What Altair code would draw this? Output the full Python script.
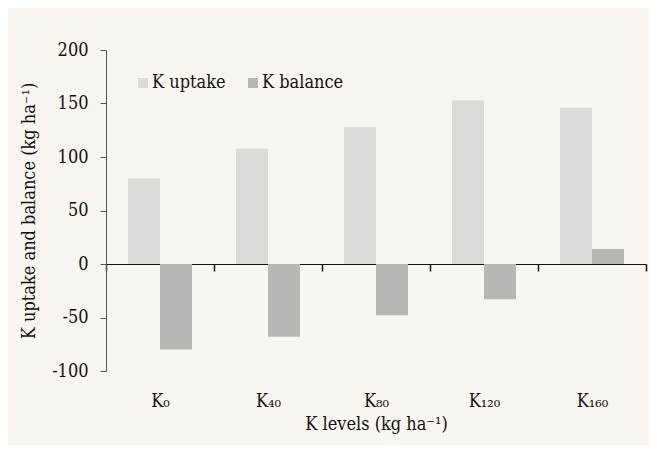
import altair as alt
import pandas as pd

levels = ["K₀", "K₄₀", "K₈₀", "K₁₂₀", "K₁₆₀"]
uptake = [80, 108, 128, 153, 146]
balance = [-80, -68, -48, -33, 14]
series = ["K uptake", "K balance"]
colors = ["#dcdbd7", "#b8b7b3"]
y_ticks = [-100, -50, 0, 50, 100, 150, 200]

rows = []
for lv, u, b in zip(levels, uptake, balance):
    rows.append({"level": lv, "series": series[0], "value": u})
    rows.append({"level": lv, "series": series[1], "value": b})
df = pd.DataFrame(rows)

FONT = "DejaVu Serif Condensed, DejaVu Serif"
INK = "#111111"

chart = alt.Chart(df).mark_bar().encode(
    x=alt.X(
        "level:N", sort=levels,
        scale=alt.Scale(paddingInner=0, paddingOuter=0),
        axis=alt.Axis(
            title="K levels (kg ha⁻¹)", labelAngle=0, offset=-107,
            tickBand="extent", ticks=True, tickSize=7, tickWidth=1.5,
            labelPadding=121, titlePadding=5,
            domainColor=INK, tickColor=INK, domainWidth=1.2,
        ),
    ),
    xOffset=alt.XOffset(
        "series:N", sort=series,
        scale=alt.Scale(paddingOuter=0.6875, paddingInner=0),
    ),
    y=alt.Y(
        "value:Q",
        scale=alt.Scale(domain=[-100, 200], nice=False),
        axis=alt.Axis(
            values=y_ticks, grid=False, title="K uptake and balance (kg ha⁻¹)",
            labelExpr="'' + datum.value",
            tickSize=6, labelPadding=12, titlePadding=13,
            domainColor="#555555", tickColor="#555555",
        ),
    ),
    color=alt.Color(
        "series:N", sort=series,
        scale=alt.Scale(domain=series, range=colors),
        legend=alt.Legend(
            title=None, orient="none", legendX=28, legendY=24,
            direction="horizontal", symbolType="square", symbolSize=100,
            symbolStrokeWidth=0, labelOffset=0, columnPadding=18, padding=0,
            labelFontSize=18, labelColor=INK,
        ),
    ),
).properties(
    width=540, height=321,
    background="#f9f6f1",
    padding={"left": 98, "top": 42, "right": 3, "bottom": 74},
    autosize=alt.AutoSizeParams(type="none"),
).configure(
    font=FONT
).configure_view(
    stroke=None
).configure_axis(
    labelFont=FONT, titleFont=FONT, labelFontSize=18, titleFontSize=18,
    labelColor=INK, titleColor=INK, titleFontWeight="normal",
).configure_legend(
    labelFont=FONT
)

chart.save("out.html", embed_options={"renderer": "svg", "actions": False})
